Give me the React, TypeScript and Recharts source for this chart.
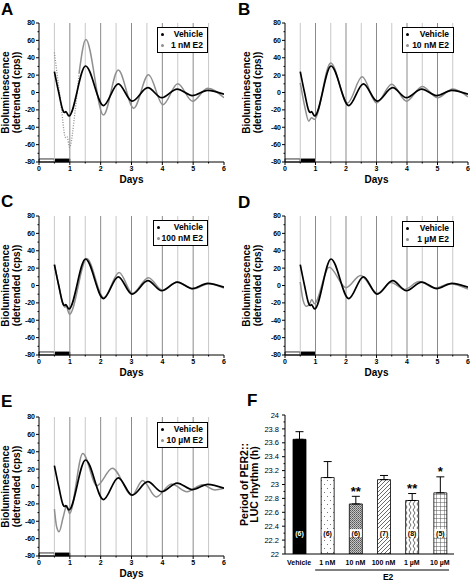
import React from "react";
import {
  LineChart,
  Line,
  XAxis,
  YAxis,
  ReferenceLine,
  ReferenceArea,
  Legend,
  BarChart,
  Bar,
  Cell,
  ErrorBar,
  LabelList,
} from "recharts";

const FONT = "'Liberation Sans', Arial, Helvetica, sans-serif";
const GRAY = "#8f8f8f";

// detrended bioluminescence traces, [day, cps]
const vehicle = [
  [0.5, 24], [0.64, 0], [0.78, -21], [0.83, -23], [0.87, -22], [0.97, -27],
  [1.51, 30.5], [2.09, -15], [2.57, 10], [3.02, -10], [3.53, 5.5], [3.98, -6],
  [4.48, 4], [4.97, -3.5], [5.47, 2.5], [6, -2],
];
const e2_1nM_early = [
  [0.5, 46], [0.63, 9], [0.74, -22], [0.83, -49], [0.87, -52], [0.91, -51],
  [0.99, -63], [1.17, -22], [1.3, 22],
];
const e2_1nM = [
  [1.3, 22], [1.52, 61], [2.09, -26], [2.57, 26], [3.07, -18], [3.55, 20.5],
  [4.02, -14], [4.5, 10], [4.98, -10], [5.47, 5], [6, -6],
];
const e2_10nM = [
  [0.5, 11], [0.64, -15], [0.78, -33], [0.87, -29], [0.96, -31], [1.5, 34],
  [2.05, -12], [2.53, 18], [3.0, -12], [3.5, 9.5], [3.98, -10], [4.5, 7],
  [5.0, -6], [5.5, 4], [6, -5],
];
const e2_100nM = [
  [0.5, 24], [0.64, 0], [0.79, -23], [0.84, -25], [0.88, -24], [0.99, -33],
  [1.55, 31], [2.1, -14], [2.6, 15], [3.03, -9], [3.55, 9], [4.0, -5.5],
  [4.5, 4], [5.0, -4], [5.5, 2], [6, -3],
];
const e2_1uM = [
  [0.5, 4], [0.6, -18], [0.7, -24], [0.8, -22], [0.88, -16], [0.96, -21],
  [1.45, 21], [2.0, -2.5], [2.48, 11.5], [3.03, -9], [3.47, 3.5], [3.92, -4.5],
  [4.4, 4.5], [4.93, -3], [5.4, 2], [6, -4],
];
const e2_10uM = [
  [0.5, -26], [0.57, -46], [0.65, -52], [0.78, -36], [0.9, -22], [0.99, -31],
  [1.42, 38], [1.88, 1], [2.38, 21], [3.02, -10], [3.36, 7], [3.8, -12],
  [4.3, 3], [4.8, -6], [5.3, 2], [5.7, -4], [6, -2],
];

const dayTicks = [0, 0.5, 1, 1.5, 2, 2.5, 3, 3.5, 4, 4.5, 5, 5.5, 6];
const halfDays = [0.5, 1.5, 2.5, 3.5, 4.5, 5.5];
const wholeDays = [1, 2, 3, 4, 5];
const cpsTicks = [-80, -70, -60, -50, -40, -30, -20, -10, 0, 10, 20, 30, 40, 50, 60, 70, 80];

// period of the PER2::LUC rhythm
const doses = ["Vehicle", "1 nM", "10 nM", "100 nM", "1 µM", "10 µM"];
const periods = [23.65, 23.1, 22.72, 23.07, 22.77, 22.88];
const periodErr = [0.11, 0.23, 0.11, 0.06, 0.1, 0.23];
const counts = [6, 6, 6, 7, 8, 5];
const stars = ["", "", "**", "", "**", "*"];
const periodTicks = [
  22, 22.1, 22.2, 22.3, 22.4, 22.5, 22.6, 22.7, 22.8, 22.9, 23,
  23.1, 23.2, 23.3, 23.4, 23.5, 23.6, 23.7, 23.8, 23.9, 24,
];

const barFills = ["#000", "url(#pDots)", "url(#pStipple)", "url(#pDiag)", "url(#pWave)", "url(#pGrid)"];

const toPoints = (arr: number[][]) => arr.map(([day, v]) => ({ day, v }));

function DayTick({ x, y, payload }: any) {
  const major = Number.isInteger(payload.value);
  return (
    <g>
      <line x1={x} x2={x} y1={y} y2={y + (major ? 3 : 1.5)} stroke="#000" />
      {major && (
        <text x={x} y={y + 9} textAnchor="middle" fontSize={7} fontWeight="bold" fontFamily={FONT}>
          {payload.value}
        </text>
      )}
    </g>
  );
}

function CpsTick({ x, y, payload }: any) {
  const major = payload.value % 20 === 0;
  return (
    <g>
      <line x1={x} x2={x - (major ? 3 : 1.5)} y1={y} y2={y} stroke="#000" />
      {major && (
        <text x={x - 4} y={y} dy="0.35em" textAnchor="end" fontSize={7} fontWeight="bold" fontFamily={FONT}>
          {payload.value}
        </text>
      )}
    </g>
  );
}

function PeriodTick({ x, y, payload, index }: any) {
  const major = index % 2 === 0;
  return (
    <g>
      <line x1={x} x2={x - (major ? 3 : 1.5)} y1={y} y2={y} stroke="#000" />
      {major && (
        <text x={x - 6} y={y} dy="0.35em" textAnchor="end" fontSize={7.5} fontFamily={FONT}>
          {Number(payload.value.toFixed(1))}
        </text>
      )}
    </g>
  );
}

function DoseTick({ x, y, payload }: any) {
  return (
    <text x={x} y={y + 10.5} textAnchor="middle" fontSize={7} fontWeight="bold" fontFamily={FONT}>
      {payload.value}
    </text>
  );
}

function RotatedTitle({ viewBox, lines, xs, size }: any) {
  const cy = viewBox.y + viewBox.height / 2;
  return (
    <g>
      {lines.map((t: string, i: number) => (
        <text
          key={t}
          x={xs[i]}
          y={cy}
          transform={`rotate(-90 ${xs[i]} ${cy})`}
          textAnchor="middle"
          dominantBaseline="central"
          fontSize={size}
          fontWeight="bold"
          fontFamily={FONT}
        >
          {t}
        </text>
      ))}
    </g>
  );
}

function TraceLegend({ e2Name, width }: { e2Name: string; width: number }) {
  const row = (color: string, text: string) => (
    <div style={{ display: "flex", alignItems: "center", justifyContent: "space-between", height: 11 }}>
      <span style={{ width: 3, height: 3, borderRadius: "50%", background: color, display: "inline-block" }} />
      <span>{text}</span>
    </div>
  );
  return (
    <div
      style={{
        width,
        height: 26,
        boxSizing: "border-box",
        border: "1px solid #000",
        background: "#fff",
        padding: "1px 4px 1px 3px",
        fontFamily: FONT,
        fontSize: 8.5,
        fontWeight: "bold",
        lineHeight: "11px",
        color: "#000",
      }}
    >
      {row("#000", "Vehicle")}
      {row(GRAY, e2Name)}
    </div>
  );
}

function PanelLetter({ letter, left, top }: { letter: string; left: number; top: number }) {
  return (
    <div
      style={{
        position: "absolute",
        left,
        top,
        fontFamily: FONT,
        fontWeight: "bold",
        fontSize: 17,
        lineHeight: "17px",
      }}
    >
      {letter}
    </div>
  );
}

interface TraceProps {
  left: number;
  top: number;
  height: number;
  margin: { top: number; right: number; bottom: number; left: number };
  titleXs: number[];
  e2: number[][];
  e2Early?: number[][];
  e2Name: string;
  legend: { left: number; top: number; width: number };
}

function TracePanel({ left, top, height, margin, titleXs, e2, e2Early, e2Name, legend }: TraceProps) {
  return (
    <div style={{ position: "absolute", left, top }}>
      <LineChart width={236} height={height} margin={margin}>
        <XAxis
          dataKey="day"
          type="number"
          domain={[0, 6]}
          ticks={dayTicks}
          interval={0}
          allowDataOverflow
          height={20}
          tickSize={0}
          tickMargin={0}
          tickLine={false}
          axisLine={{ stroke: "#000" }}
          tick={(p: any) => <DayTick {...p} />}
          label={{
            content: ({ viewBox }: any) => (
              <text
                x={viewBox.x + viewBox.width / 2}
                y={viewBox.y + 20.5}
                textAnchor="middle"
                fontSize={10}
                fontWeight="bold"
                fontFamily={FONT}
              >
                Days
              </text>
            ),
          }}
        />
        <YAxis
          type="number"
          domain={[-80, 80]}
          ticks={cpsTicks}
          interval={0}
          allowDataOverflow
          width={39}
          tickSize={0}
          tickMargin={0}
          tickLine={false}
          axisLine={{ stroke: "#000" }}
          tick={(p: any) => <CpsTick {...p} />}
          label={{
            content: (p: any) => (
              <RotatedTitle
                viewBox={p.viewBox}
                lines={["Bioluminescence", "(detrended (cps))"]}
                xs={titleXs}
                size={10}
              />
            ),
          }}
        />
        {halfDays.map((d) => (
          <ReferenceLine key={`h${d}`} x={d} stroke="#c8c8c8" strokeWidth={1} />
        ))}
        {wholeDays.map((d) => (
          <ReferenceLine key={`w${d}`} x={d} stroke="#8a8a8a" strokeWidth={1} />
        ))}
        <ReferenceArea x1={0} x2={0.5} y1={-80} y2={-76.5} fill="#fff" fillOpacity={1} stroke="#000" strokeWidth={0.8} />
        <ReferenceArea x1={0.5} x2={1} y1={-80} y2={-76.5} fill="#000" fillOpacity={1} stroke="#000" strokeWidth={0.8} />
        {e2Early && (
          <Line
            data={toPoints(e2Early)}
            dataKey="v"
            name={`${e2Name} early`}
            type="monotone"
            stroke={GRAY}
            strokeWidth={1.3}
            strokeDasharray="1 1.5"
            dot={false}
            isAnimationActive={false}
          />
        )}
        <Line
          data={toPoints(e2)}
          dataKey="v"
          name={e2Name}
          type="monotone"
          stroke={GRAY}
          strokeWidth={1.5}
          dot={false}
          isAnimationActive={false}
        />
        <Line
          data={toPoints(vehicle)}
          dataKey="v"
          name="Vehicle"
          type="monotone"
          stroke="#000"
          strokeWidth={1.7}
          dot={false}
          isAnimationActive={false}
        />
        <Legend
          layout="horizontal"
          verticalAlign="middle"
          align="center"
          wrapperStyle={{ left: legend.left, top: legend.top, width: legend.width, height: 26 }}
          content={() => <TraceLegend e2Name={e2Name} width={legend.width} />}
        />
      </LineChart>
    </div>
  );
}

function BarNote(props: any) {
  const { x, y, width, height, index } = props;
  const unit = height / (periods[index] - 22);
  const cx = x + width / 2;
  const ny = y + height - 0.3 * unit;
  const errTop = y - periodErr[index] * unit;
  return (
    <g>
      {index > 0 && <rect x={cx - 6} y={ny - 4} width={12} height={8} fill="#fff" />}
      <text
        x={cx}
        y={ny}
        dy="0.35em"
        textAnchor="middle"
        fontSize={7}
        fontWeight="bold"
        fontFamily={FONT}
        fill={index === 0 ? "#fff" : "#000"}
      >
        ({counts[index]})
      </text>
      {stars[index] && (
        <text x={cx} y={errTop - 0.5} textAnchor="middle" fontSize={13} fontWeight="bold" fontFamily={FONT}>
          {stars[index]}
        </text>
      )}
    </g>
  );
}

function PeriodPanel() {
  const data = doses.map((dose, i) => ({
    dose,
    period: periods[i],
    errRange: [0, periodErr[i]],
  }));
  return (
    <div style={{ position: "absolute", left: 236, top: 390 }}>
      <BarChart width={236} height={191} data={data} margin={{ top: 25, right: 18, bottom: 7, left: 9 }}>
        <defs>
          <pattern id="pDots" width="6" height="8" patternUnits="userSpaceOnUse">
            <rect width="6" height="8" fill="#fff" />
            <rect x="1" y="2" width="1" height="1" fill="#777" />
            <rect x="4" y="6" width="1" height="1" fill="#777" />
          </pattern>
          <pattern id="pStipple" width="2" height="2" patternUnits="userSpaceOnUse">
            <rect width="2" height="2" fill="#c4c4c4" />
            <rect x="0" y="0" width="1" height="1" fill="#555" />
            <rect x="1" y="1" width="1" height="1" fill="#777" />
          </pattern>
          <pattern id="pDiag" width="4" height="4" patternUnits="userSpaceOnUse">
            <rect width="4" height="4" fill="#fff" />
            <path d="M0,4 L4,0 M-1,1 L1,-1 M3,5 L5,3" stroke="#444" strokeWidth="0.8" />
          </pattern>
          <pattern id="pWave" width="4" height="6" patternUnits="userSpaceOnUse">
            <rect width="4" height="6" fill="#fff" />
            <path d="M1,0 L3,3 L1,6" fill="none" stroke="#444" strokeWidth="0.8" />
          </pattern>
          <pattern id="pGrid" width="4" height="4" patternUnits="userSpaceOnUse">
            <rect width="4" height="4" fill="#fff" />
            <path d="M0,0 L4,0 M0,0 L0,4" stroke="#444" strokeWidth="0.9" />
          </pattern>
        </defs>
        <XAxis
          dataKey="dose"
          height={20}
          tickSize={0}
          tickMargin={0}
          tickLine={false}
          interval={0}
          axisLine={{ stroke: "#000" }}
          tick={(p: any) => <DoseTick {...p} />}
          label={{
            content: ({ viewBox }: any) => {
              const x1 = viewBox.x + viewBox.width / 6 + 2;
              const x2 = viewBox.x + viewBox.width - 5;
              return (
                <g>
                  <line x1={x1} x2={x2} y1={viewBox.y + 16} y2={viewBox.y + 16} stroke="#000" />
                  <text
                    x={viewBox.x + viewBox.width * 0.61}
                    y={viewBox.y + 25.5}
                    textAnchor="middle"
                    fontSize={8.5}
                    fontWeight="bold"
                    fontFamily={FONT}
                  >
                    E2
                  </text>
                </g>
              );
            },
          }}
        />
        <YAxis
          type="number"
          domain={[22, 24]}
          ticks={periodTicks}
          interval={0}
          allowDataOverflow
          width={40}
          tickSize={0}
          tickMargin={0}
          tickLine={false}
          axisLine={{ stroke: "#000" }}
          tick={(p: any) => <PeriodTick {...p} />}
          label={{
            content: (p: any) => (
              <RotatedTitle
                viewBox={p.viewBox}
                lines={["Period of PER2::", "LUC rhythm (h)"]}
                xs={[7.5, 18]}
                size={10.5}
              />
            ),
          }}
        />
        <Bar dataKey="period" barSize={13} stroke="#000" strokeWidth={0.8} isAnimationActive={false}>
          {doses.map((d, i) => (
            <Cell key={d} fill={barFills[i]} />
          ))}
          <ErrorBar dataKey="errRange" width={4} stroke="#000" strokeWidth={1} direction="y" />
          <LabelList content={BarNote} />
        </Bar>
      </BarChart>
    </div>
  );
}

export default function App() {
  return (
    <div style={{ position: "absolute", left: 0, top: 0, width: 472, height: 581, background: "#fff" }}>
      <TracePanel
        left={0}
        top={0}
        height={195}
        margin={{ top: 23, right: 12, bottom: 13, left: 0 }}
        titleXs={[5.5, 16.5]}
        e2={e2_1nM}
        e2Early={e2_1nM_early}
        e2Name="1 nM E2"
        legend={{ left: 157, top: 27, width: 51 }}
      />
      <TracePanel
        left={236}
        top={0}
        height={195}
        margin={{ top: 23, right: 4, bottom: 13, left: 10 }}
        titleXs={[10, 21]}
        e2={e2_10nM}
        e2Name="10 nM E2"
        legend={{ left: 166, top: 27, width: 52 }}
      />
      <TracePanel
        left={0}
        top={195}
        height={195}
        margin={{ top: 21, right: 12, bottom: 15, left: 0 }}
        titleXs={[5.5, 16.5]}
        e2={e2_100nM}
        e2Name="100 nM E2"
        legend={{ left: 153, top: 25, width: 55 }}
      />
      <TracePanel
        left={236}
        top={195}
        height={195}
        margin={{ top: 21, right: 4, bottom: 15, left: 10 }}
        titleXs={[10, 21]}
        e2={e2_1uM}
        e2Name="1 µM E2"
        legend={{ left: 166, top: 26, width: 52 }}
      />
      <TracePanel
        left={0}
        top={390}
        height={191}
        margin={{ top: 27, right: 12, bottom: 5, left: 0 }}
        titleXs={[5.5, 16.5]}
        e2={e2_10uM}
        e2Name="10 µM E2"
        legend={{ left: 157, top: 32, width: 51 }}
      />
      <PeriodPanel />
      <PanelLetter letter="A" left={1} top={1} />
      <PanelLetter letter="B" left={238} top={1} />
      <PanelLetter letter="C" left={1} top={193} />
      <PanelLetter letter="D" left={238} top={194} />
      <PanelLetter letter="E" left={1} top={393} />
      <PanelLetter letter="F" left={247} top={392} />
    </div>
  );
}
